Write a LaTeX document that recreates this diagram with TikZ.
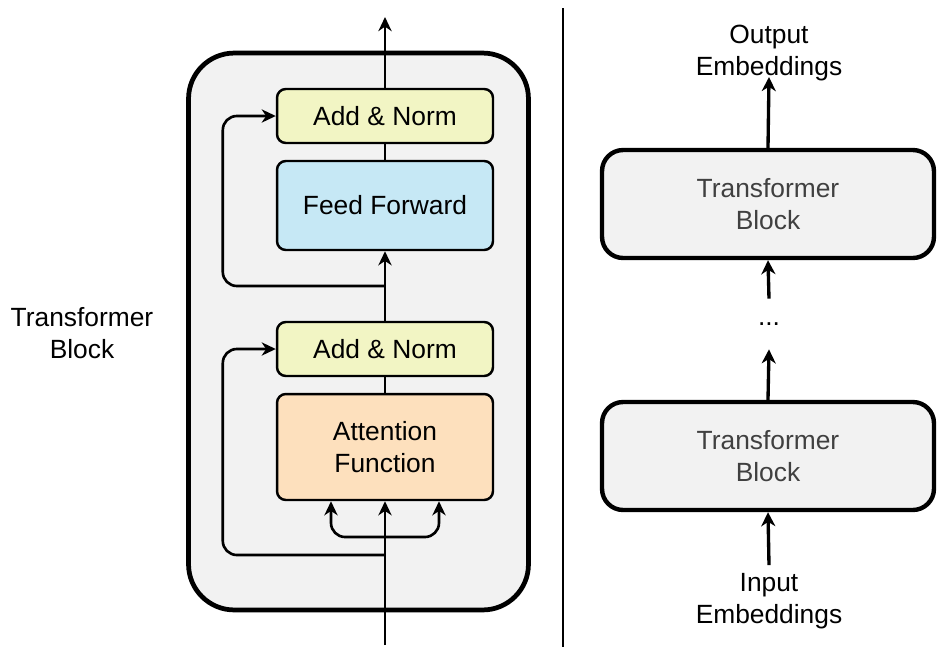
\documentclass[tikz,border=0pt]{standalone}
\usepackage{fontspec}
\setmainfont{Liberation Sans}
\usepackage{xcolor}
\usetikzlibrary{arrows.meta,positioning,calc}

\definecolor{blockgray}{HTML}{F2F2F2}
\definecolor{normgreen}{HTML}{F2F5C4}
\definecolor{ffblue}{HTML}{C6E8F5}
\definecolor{attnorange}{HTML}{FDE0BD}
\definecolor{labelgray}{HTML}{404040}

\tikzset{
  sublayer/.style={draw, line width=1.4pt, rounded corners=5pt, minimum width=4.32cm, align=center},
  tblock/.style={draw, line width=2.5pt, rounded corners=12pt, fill=blockgray, text=labelgray,
                 minimum width=6.64cm, minimum height=2.16cm, align=center},
  flow/.style={-{Stealth[length=8pt,width=7.5pt,inset=2.5pt]}, line width=1.5pt},
  bigflow/.style={-{Stealth[length=8pt,width=8pt,inset=2.5pt]}, line width=1.9pt},
  lbl/.style={align=center, inner sep=2pt}
}

\begin{document}
\begin{tikzpicture}[x=0.02cm, y=-0.02cm, font=\fontsize{15}{18.5}\selectfont]
    \useasboundingbox (0,0) rectangle (937,647);

    % Outer block with its sublayers
    \node[draw, line width=2.7pt, rounded corners=26pt, fill=blockgray,
          minimum width=6.8cm, minimum height=11.14cm] (block) at (358.5,331.5) {};
    \node[sublayer, fill=normgreen, minimum height=1.08cm] (norm2) at (385,116) {Add \& Norm};
    \node[sublayer, fill=ffblue, minimum height=1.78cm] (ff) at (385,205.5) {Feed Forward};
    \node[sublayer, fill=normgreen, minimum height=1.08cm] (norm1) at (385,349) {Add \& Norm};
    \node[sublayer, fill=attnorange, minimum height=2.12cm] (attn) at (385,447) {Attention\\Function};

    \node[lbl] (blocklabel) at (82,333) {Transformer\\Block};

    % Main path through the block
    \coordinate (blockin) at (385,645);
    \coordinate (blockout) at (385,17);
    \coordinate (split) at (385,537);
    \coordinate (res1) at (385,555);
    \coordinate (res2) at (385,286);
    \draw[flow] (blockin) -- (attn.south);
    \draw[line width=1.5pt] (attn.north) -- (norm1.south);
    \draw[flow] (norm1.north) -- (ff.south);
    \draw[line width=1.5pt] (ff.north) -- (norm2.south);
    \draw[flow] (norm2.north) -- (blockout);

    % Query, key and value branches
    \draw[flow, rounded corners=8pt] (split) -| ($(attn.south)+(-54,0)$);
    \draw[flow, rounded corners=8pt] (split) -| ($(attn.south)+(54,0)$);

    % Residual connections
    \draw[flow, rounded corners=8pt] (res1) -| ($(norm1.west)+(-53,0)$) -- (norm1.west);
    \draw[flow, rounded corners=8pt] (res2) -| ($(norm2.west)+(-53,0)$) -- (norm2.west);

    % Divider
    \draw[line width=1.7pt] (563,8) -- (563,647);

    % Stack of blocks
    \node[tblock] (tb2) at (768,204) {Transformer\\Block};
    \node[tblock] (tb1) at (768,456) {Transformer\\Block};
    \node[lbl, minimum height=1.0cm] (dots) at (769,324) {...};
    \node[lbl] (inemb) at (769,601) {Input\\Embeddings};
    \node[lbl] (outemb) at (769,53) {Output\\Embeddings};

    \draw[bigflow] ($(inemb.north)+(0,-4)$) -- (tb1.south);
    \draw[bigflow] (tb1.north) -- (dots.south);
    \draw[bigflow] (dots.north) -- (tb2.south);
    \draw[bigflow] (tb2.north) -- ($(outemb.south)+(0,-8)$);
\end{tikzpicture}
\end{document}
